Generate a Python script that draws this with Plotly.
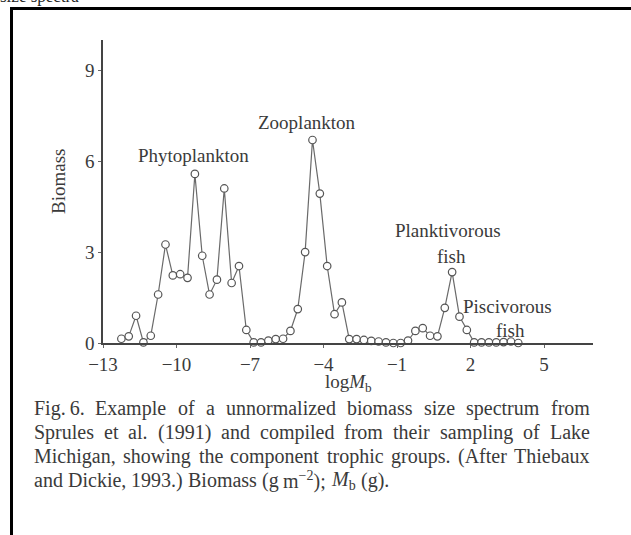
import re
import plotly.graph_objects as go

# Biomass size spectrum, Lake Michigan (log body-mass bins)
log_mass = [-12.25, -11.95, -11.65, -11.35, -11.05, -10.75, -10.45, -10.15, -9.85, -9.55,
            -9.25, -8.95, -8.65, -8.35, -8.05, -7.75, -7.45, -7.15, -6.85, -6.55,
            -6.25, -5.95, -5.65, -5.35, -5.05, -4.75, -4.45, -4.15, -3.85, -3.55,
            -3.25, -2.95, -2.65, -2.35, -2.05, -1.75, -1.45, -1.15, -0.85, -0.55,
            -0.25, 0.05, 0.35, 0.65, 0.95, 1.25, 1.55, 1.85, 2.15, 2.45,
            2.75, 3.05, 3.35, 3.65, 3.95]
biomass = [0.14, 0.22, 0.90, 0.02, 0.24, 1.60, 3.25, 2.23, 2.27, 2.15,
           5.58, 2.88, 1.60, 2.09, 5.10, 1.98, 2.54, 0.43, 0.02, 0.02,
           0.08, 0.13, 0.14, 0.40, 1.12, 3.00, 6.70, 4.93, 2.54, 0.95,
           1.34, 0.13, 0.13, 0.10, 0.07, 0.05, 0.02, 0.00, 0.00, 0.08,
           0.40, 0.49, 0.24, 0.22, 1.16, 2.34, 0.87, 0.43, 0.02, 0.02,
           0.02, 0.02, 0.03, 0.05, 0.00]

x_ticks = [-13, -10, -7, -4, -1, 2, 5]
x_tick_text = ["\u221213", "\u221210", "\u22127", "\u22124", "\u22121", "2", "5"]
y_ticks = [0, 3, 6, 9]

# trophic-group labels (one entry per text line)
label_text = ["Phytoplankton", "Zooplankton", "Planktivorous", "fish", "Piscivorous", "fish"]
label_x = [-9.3, -4.67, 1.08, 1.24, 3.49, 3.65]
label_y = [6.2, 7.29, 3.70, 2.87, 1.19, 0.40]

caption_lines = [
    "Fig.\u20096. Example of a unnormalized biomass size spectrum from",
    "Sprules et al. (1991) and compiled from their sampling of Lake",
    "Michigan, showing the component trophic groups. (After Thiebaux",
    "and Dickie, 1993.) Biomass (g m<sup>\u22122</sup>); <i>M</i><sub>b</sub> (g).",
]

W, H = 631, 535
L, R, T, B = 103, 593, 40, 343  # plot area in pixels
PW, PH = R - L, B - T


def px(x):
    return (x - L) / PW


def py(y):
    return (B - y) / PH


SERIF = "Liberation Serif, Times New Roman, serif"
INK = "#3a3a3a"
FS = 19
CAP_FS = 20

# Times-compatible advance widths (per 1000 em) for laying out justified lines
_W = dict(zip("abcdefghijklmnopqrstuvwxyz",
              [444, 500, 444, 500, 444, 333, 500, 500, 278, 278, 500, 278, 778,
               500, 500, 500, 500, 333, 389, 278, 500, 500, 722, 500, 500, 444]))
_W.update(zip("ABCDEFGHIJKLMNOPQRSTUVWXYZ",
              [722, 667, 667, 722, 611, 556, 722, 722, 333, 389, 722, 611, 889,
               722, 722, 556, 722, 667, 556, 611, 722, 722, 944, 722, 722, 611]))
_W.update({c: 500 for c in "0123456789"})
_W.update({".": 250, ",": 250, "(": 333, ")": 333, ";": 278, ":": 278,
           "-": 333, "\u2212": 564, " ": 250, "\u2009": 167})


def text_width(s, size):
    total = 0.0
    for part in re.split(r"(<sup>.*?</sup>|<sub>.*?</sub>)", s):
        scale = 0.7 if part.startswith(("<sup>", "<sub>")) else 1.0
        plain = re.sub(r"<[^>]+>", "", part)
        total += scale * sum(_W.get(c, 500) for c in plain)
    return total * size / 1000.0


fig = go.Figure()
fig.add_trace(go.Scatter(
    x=log_mass, y=biomass, mode="lines+markers",
    line=dict(color="#6a6a6a", width=1.2),
    marker=dict(symbol="circle", size=7.5, color="white",
                line=dict(color="#555555", width=1.2)),
    hoverinfo="skip", showlegend=False, cliponaxis=False,
))

annotations = []
for name, gx, gy in zip(label_text, label_x, label_y):
    annotations.append(dict(x=gx, y=gy, xref="x", yref="y", text=name,
                            showarrow=False, font=dict(family=SERIF, size=FS, color=INK),
                            xanchor="center", yanchor="middle"))

# axis titles
annotations.append(dict(x=px(58), y=py(182), xref="paper", yref="paper", text="Biomass",
                        textangle=-90, showarrow=False,
                        font=dict(family=SERIF, size=FS, color=INK),
                        xanchor="center", yanchor="middle"))
annotations.append(dict(x=px(348), y=py(383), xref="paper", yref="paper",
                        text="log<i>M</i><sub>b</sub>", showarrow=False,
                        font=dict(family=SERIF, size=FS, color=INK),
                        xanchor="center", yanchor="middle"))

# justified caption: every line but the last is spread across the full measure
cap_left, cap_right = 32, 588
caption_y = [408, 432, 456, 480]
for k, (line, cy) in enumerate(zip(caption_lines, caption_y)):
    words = line.split(" ")
    widths = [text_width(w, CAP_FS) for w in words]
    if k < len(caption_lines) - 1:
        gap = (cap_right - cap_left - sum(widths)) / (len(words) - 1)
    else:
        gap = 250 * CAP_FS / 1000.0
    xpos = cap_left
    for w, ww in zip(words, widths):
        annotations.append(dict(x=px(xpos), y=py(cy), xref="paper", yref="paper", text=w,
                                showarrow=False,
                                font=dict(family=SERIF, size=CAP_FS, color=INK),
                                xanchor="left", yanchor="middle", align="left"))
        xpos += ww + gap

# heading of the page section, mostly above the frame
annotations.append(dict(x=px(-2), y=py(-4), xref="paper", yref="paper", text="size spectra",
                        showarrow=False, font=dict(family=SERIF, size=17, color="#222"),
                        xanchor="left", yanchor="middle"))

shapes = [
    dict(type="line", xref="paper", yref="paper", x0=px(11.5), x1=px(640),
         y0=py(8.5), y1=py(8.5), line=dict(color="black", width=3)),
    dict(type="line", xref="paper", yref="paper", x0=px(11.5), x1=px(11.5),
         y0=py(7), y1=py(545), line=dict(color="black", width=3)),
]

fig.update_layout(
    width=W, height=H,
    margin=dict(l=L, r=W - R, t=T, b=H - B, autoexpand=False),
    paper_bgcolor="white", plot_bgcolor="white",
    font=dict(family=SERIF, color=INK),
    annotations=annotations, shapes=shapes,
    xaxis=dict(range=[-13, 7], tickvals=x_ticks, ticktext=x_tick_text,
               showgrid=False, zeroline=False, showline=True, linecolor="#444",
               linewidth=1.5, ticks="outside", ticklen=3, tickcolor="#666",
               tickfont=dict(family=SERIF, size=FS, color=INK)),
    yaxis=dict(range=[0, 10], tickvals=y_ticks, showgrid=False, zeroline=False,
               showline=True, linecolor="#444", linewidth=1.5, ticks="outside",
               ticklen=3, tickcolor="#666",
               tickfont=dict(family=SERIF, size=FS, color=INK)),
)

fig.write_html("out.html")
